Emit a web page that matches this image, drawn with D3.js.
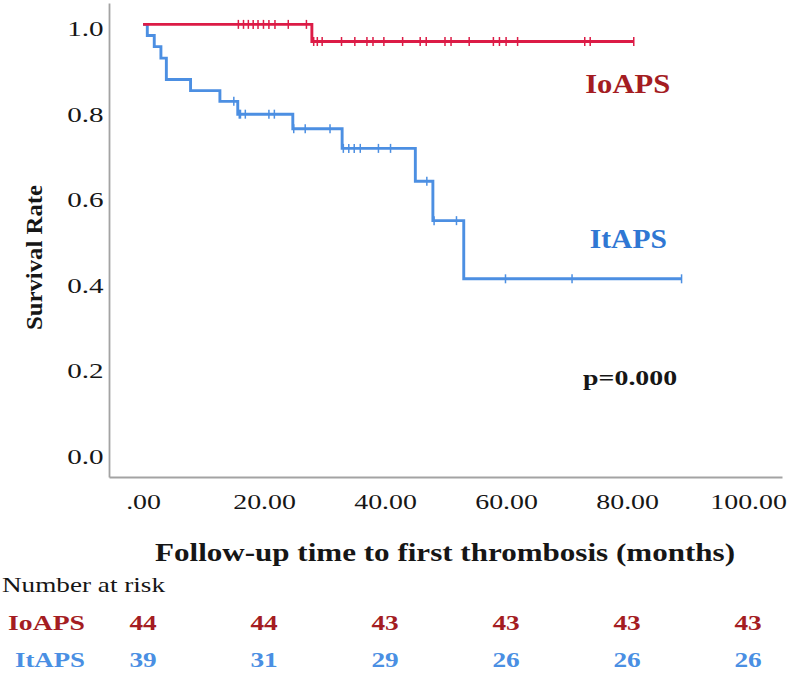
<!DOCTYPE html>
<html><head><meta charset="utf-8">
<script src="https://cdn.jsdelivr.net/npm/d3@7"></script>
<style>
body{margin:0;background:#fff}
svg{display:block}
text{font-family:"Liberation Serif","Times New Roman",serif}
</style>
</head><body>
<svg id="chart" width="787" height="673"></svg>
<script>
// ---- data ----
const xTicks = [0, 20, 40, 60, 80, 100];
const xTickLabels = [".00", "20.00", "40.00", "60.00", "80.00", "100.00"];
const yTicks = [0, 0.2, 0.4, 0.6, 0.8, 1.0];
const yTickLabels = ["0.0", "0.2", "0.4", "0.6", "0.8", "1.0"];
const groups = ["IoAPS", "ItAPS"];

// IoAPS step curve (event times, survival after event)
const ioTimes = [0, 27.9];
const ioSurv  = [1.0, 0.960];
const ioEnd = 81.1;
const ioCensor = [15.75, 16.6, 17.4, 18.2, 19.0, 19.9, 20.8, 21.8, 24.0, 27.0,
  28.2, 28.8, 29.6, 32.8, 35.0, 37.0, 38.0, 39.8, 42.9, 45.8, 46.8, 49.9, 50.9,
  53.9, 57.9, 58.9, 60.0, 61.9, 73.0, 73.9, 81.1];

// ItAPS step curve
const itTimes = [0, 0.7, 1.85, 2.95, 3.85, 7.85, 12.7, 15.65, 24.75, 32.9, 45.0, 47.9, 53.0];
const itSurv  = [1.0, 0.974, 0.948, 0.921, 0.871, 0.845, 0.820, 0.790, 0.756, 0.710, 0.633, 0.541, 0.405];
const itEnd = 89.0;
const itCensor = [15.0, 15.9, 16.1, 16.9, 20.8, 21.7, 24.9, 26.8, 30.9, 33.1, 34.0, 34.9,
  35.9, 38.9, 40.9, 46.9, 48.1, 51.8, 59.9, 70.9, 89.0];

// number at risk table
const riskTimes = [0, 20, 40, 60, 80, 100];
const ioRisk = [44, 44, 43, 43, 43, 43];
const itRisk = [39, 31, 29, 26, 26, 26];
const pText = "p=0.000";

// ---- drawing ----
const svg = d3.select("#chart");
const x = d3.scaleLinear().domain([-5.63, 105.6]).range([109, 782]);
const y = d3.scaleLinear().domain([-0.0585, 1.05]).range([477, 3]);

const axisColor = "#a3a3a3";
const redLine = "#dc1b46", blueLine = "#4c8fe2";
const redText = "#a41c22", blueText = "#2f77d3", blueRisk = "#4a8fe3";
const ink = "#161616";

function stretch(sel, k) {
  sel.each(function () {
    const L = this.getComputedTextLength();
    d3.select(this).attr("textLength", L * k).attr("lengthAdjust", "spacingAndGlyphs");
  });
}

// x axis
const gx = svg.append("g").attr("transform", "translate(0,477)")
  .call(d3.axisBottom(x).tickValues(xTicks).tickSize(0).tickSizeOuter(0)
    .tickFormat((d, i) => xTickLabels[i]));
gx.select(".domain").attr("stroke", axisColor).attr("stroke-width", 1.8);
gx.selectAll("text").attr("y", 32).attr("dy", 0)
  .attr("font-size", 20.5).attr("fill", ink)
  .style("font-family", '"Liberation Serif","Times New Roman",serif');
stretch(gx.selectAll("text"), 1.36);

// y axis
const gy = svg.append("g").attr("transform", "translate(109,0)")
  .call(d3.axisLeft(y).tickValues(yTicks).tickSize(0).tickSizeOuter(0)
    .tickFormat((d, i) => yTickLabels[i]));
gy.select(".domain").attr("stroke", axisColor).attr("stroke-width", 1.8);
gy.selectAll("text").attr("x", -5.5).attr("y", 11.5).attr("dy", 0)
  .attr("font-size", 20.5).attr("fill", ink)
  .style("font-family", '"Liberation Serif","Times New Roman",serif');
stretch(gy.selectAll("text"), 1.42);

// axis titles
svg.append("text").attr("transform", "translate(34,257.5) rotate(-90)")
  .attr("text-anchor", "middle").attr("dy", "0.35em")
  .attr("font-size", 24).attr("font-weight", "bold").attr("fill", ink)
  .attr("textLength", 145).attr("lengthAdjust", "spacingAndGlyphs")
  .text("Survival Rate");

svg.append("text").attr("x", 445).attr("y", 561)
  .attr("text-anchor", "middle")
  .attr("font-size", 26).attr("font-weight", "bold").attr("fill", ink)
  .attr("textLength", 580).attr("lengthAdjust", "spacingAndGlyphs")
  .text("Follow-up time to first thrombosis (months)");

// curves
const line = d3.line().x(d => x(d[0])).y(d => y(d[1])).curve(d3.curveStepAfter);
function survAt(times, surv, t) {
  let s = surv[0];
  for (let i = 0; i < times.length; i++) if (times[i] <= t) s = surv[i];
  return s;
}
function drawCurve(times, surv, end, censor, color) {
  const pts = times.map((t, i) => [t, surv[i]]);
  pts.push([end, surv[surv.length - 1]]);
  svg.append("path").attr("d", line(pts)).attr("fill", "none")
    .attr("stroke", color).attr("stroke-width", 2.9);
  svg.append("g").selectAll("line").data(censor).join("line")
    .attr("x1", d => x(d)).attr("x2", d => x(d))
    .attr("y1", d => y(survAt(times, surv, d)) - 4.5)
    .attr("y2", d => y(survAt(times, surv, d)) + 4.5)
    .attr("stroke", color).attr("stroke-width", 1.5);
}
drawCurve(itTimes, itSurv, itEnd, itCensor, blueLine);
drawCurve(ioTimes, ioSurv, ioEnd, ioCensor, redLine);

// in-plot labels
svg.append("text").attr("x", x(80.1)).attr("y", y(0.84)).attr("text-anchor", "middle")
  .attr("font-size", 28).attr("font-weight", "bold").attr("fill", redText)
  .attr("textLength", 85).attr("lengthAdjust", "spacingAndGlyphs").text(groups[0]);
svg.append("text").attr("x", x(80.2)).attr("y", y(0.477)).attr("text-anchor", "middle")
  .attr("font-size", 28).attr("font-weight", "bold").attr("fill", blueText)
  .attr("textLength", 77).attr("lengthAdjust", "spacingAndGlyphs").text(groups[1]);
svg.append("text").attr("x", x(80.5)).attr("y", y(0.157)).attr("text-anchor", "middle")
  .attr("font-size", 22).attr("font-weight", "bold").attr("fill", ink)
  .attr("textLength", 94).attr("lengthAdjust", "spacingAndGlyphs").text(pText);

// number at risk table
svg.append("text").attr("x", 2).attr("y", 592)
  .attr("font-size", 21).attr("fill", ink)
  .attr("textLength", 163).attr("lengthAdjust", "spacingAndGlyphs").text("Number at risk");

const rows = [
  {name: groups[0], vals: ioRisk, color: redText, base: 630, len: 77},
  {name: groups[1], vals: itRisk, color: blueRisk, base: 667, len: 70}
];
rows.forEach(r => {
  svg.append("text").attr("x", 85).attr("y", r.base).attr("text-anchor", "end")
    .attr("font-size", 21).attr("font-weight", "bold").attr("fill", r.color)
    .attr("textLength", r.len).attr("lengthAdjust", "spacingAndGlyphs").text(r.name);
  const g = svg.append("g");
  g.selectAll("text").data(r.vals).join("text")
    .attr("x", (d, i) => x(riskTimes[i])).attr("y", r.base)
    .attr("text-anchor", "middle")
    .attr("font-size", 21).attr("font-weight", "bold").attr("fill", r.color)
    .text(d => d);
  stretch(g.selectAll("text"), 1.3);
});
</script>
</body></html>
